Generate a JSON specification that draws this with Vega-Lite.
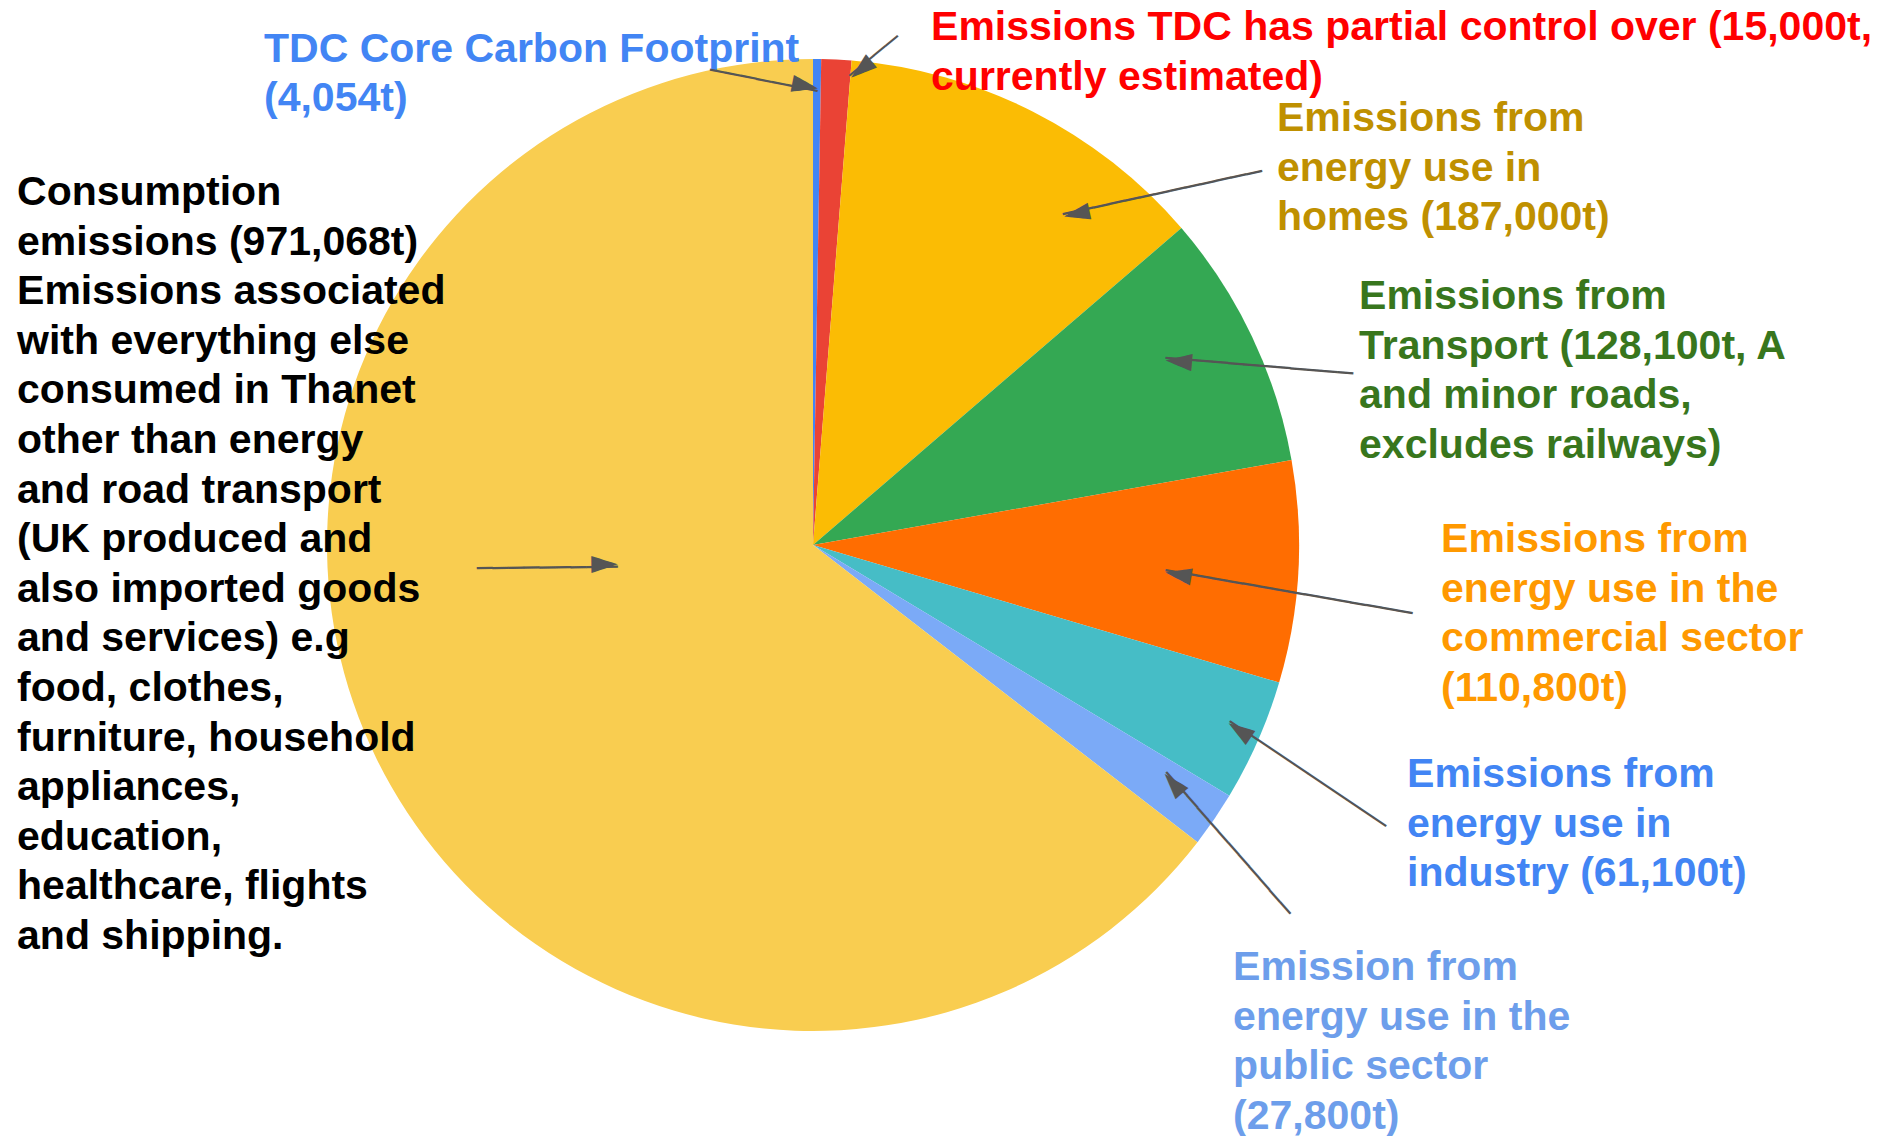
{
  "$schema": "https://vega.github.io/schema/vega-lite/v6.json",
  "width": 972,
  "height": 972,
  "autosize": {"type": "none"},
  "padding": {"left": 327, "top": 59, "right": 602, "bottom": 105},
  "background": "white",
  "config": {"view": {"stroke": null}},
  "data": {
    "values": [
      {"key": "TDC Core Carbon Footprint", "value": 4054, "order": 1, "label": "TDC Core Carbon Footprint|(4,054t)"},
      {"key": "Partial control", "value": 15000, "order": 2, "label": "Emissions TDC has partial control over (15,000t,|currently estimated)"},
      {"key": "Homes", "value": 187000, "order": 3, "label": "Emissions from|energy use in|homes (187,000t)"},
      {"key": "Transport", "value": 128100, "order": 4, "label": "Emissions from|Transport (128,100t, A|and minor roads,|excludes railways)"},
      {"key": "Commercial", "value": 110800, "order": 5, "label": "Emissions from|energy use in the|commercial sector|(110,800t)"},
      {"key": "Industry", "value": 61100, "order": 6, "label": "Emissions from|energy use in|industry (61,100t)"},
      {"key": "Public sector", "value": 27800, "order": 7, "label": "Emission from|energy use in the|public sector|(27,800t)"},
      {"key": "Consumption", "value": 971068, "order": 8, "label": "Consumption|emissions (971,068t)|Emissions associated|with everything else|consumed in Thanet|other than energy|and road transport|(UK produced and|also imported goods|and services) e.g|food, clothes,|furniture, household|appliances,|education,|healthcare, flights|and shipping."}
    ]
  },
  "encoding": {
    "theta": {"field": "value", "type": "quantitative", "stack": true},
    "order": {"field": "order", "type": "quantitative"}
  },
  "layer": [
    {
      "mark": {"type": "arc", "stroke": null},
      "encoding": {
        "color": {
          "field": "key", "type": "nominal", "legend": null,
          "scale": {
            "domain": ["TDC Core Carbon Footprint", "Partial control", "Homes", "Transport", "Commercial", "Industry", "Public sector", "Consumption"],
            "range": ["#4285F4", "#EA4335", "#FBBC04", "#34A853", "#FF6D01", "#46BDC6", "#7BAAF7", "#F9CD50"]
          }
        }
      }
    },
    {
      "mark": {"type": "text", "radius": 486, "dx": -553.1, "dy": 2.7, "align": "left", "baseline": "alphabetic", "font": "Liberation Sans", "fontWeight": "bold", "fontSize": 41, "lineHeight": 49.6, "lineBreak": "|", "fill": "#4285F4"},
      "encoding": {"text": {"condition": {"test": "datum.key === 'TDC Core Carbon Footprint'", "field": "label"}, "value": ""}}
    },
    {
      "mark": {"type": "text", "radius": 486, "dx": 94.6, "dy": -19.6, "align": "left", "baseline": "alphabetic", "font": "Liberation Sans", "fontWeight": "bold", "fontSize": 41, "lineHeight": 49.6, "lineBreak": "|", "fill": "#FF0000"},
      "encoding": {"text": {"condition": {"test": "datum.key === 'Partial control'", "field": "label"}, "value": ""}}
    },
    {
      "mark": {"type": "text", "radius": 486, "dx": 243.9, "dy": 19.3, "align": "left", "baseline": "alphabetic", "font": "Liberation Sans", "fontWeight": "bold", "fontSize": 41, "lineHeight": 49.6, "lineBreak": "|", "fill": "#BF9000"},
      "encoding": {"text": {"condition": {"test": "datum.key === 'Homes'", "field": "label"}, "value": ""}}
    },
    {
      "mark": {"type": "text", "radius": 486, "dx": 107.0, "dy": -27.6, "align": "left", "baseline": "alphabetic", "font": "Liberation Sans", "fontWeight": "bold", "fontSize": 41, "lineHeight": 49.6, "lineBreak": "|", "fill": "#38761D"},
      "encoding": {"text": {"condition": {"test": "datum.key === 'Transport'", "field": "label"}, "value": ""}}
    },
    {
      "mark": {"type": "text", "radius": 486, "dx": 142.8, "dy": -20.0, "align": "left", "baseline": "alphabetic", "font": "Liberation Sans", "fontWeight": "bold", "fontSize": 41, "lineHeight": 49.6, "lineBreak": "|", "fill": "#FF9900"},
      "encoding": {"text": {"condition": {"test": "datum.key === 'Commercial'", "field": "label"}, "value": ""}}
    },
    {
      "mark": {"type": "text", "radius": 486, "dx": 149.2, "dy": 46.3, "align": "left", "baseline": "alphabetic", "font": "Liberation Sans", "fontWeight": "bold", "fontSize": 41, "lineHeight": 49.6, "lineBreak": "|", "fill": "#4285F4"},
      "encoding": {"text": {"condition": {"test": "datum.key === 'Industry'", "field": "label"}, "value": ""}}
    },
    {
      "mark": {"type": "text", "radius": 486, "dx": 19.0, "dy": 160.5, "align": "left", "baseline": "alphabetic", "font": "Liberation Sans", "fontWeight": "bold", "fontSize": 41, "lineHeight": 49.6, "lineBreak": "|", "fill": "#6D9EEB"},
      "encoding": {"text": {"condition": {"test": "datum.key === 'Public sector'", "field": "label"}, "value": ""}}
    },
    {
      "mark": {"type": "text", "radius": 486, "dx": -359.7, "dy": -554.1, "align": "left", "baseline": "alphabetic", "font": "Liberation Sans", "fontWeight": "bold", "fontSize": 41, "lineHeight": 49.6, "lineBreak": "|", "fill": "#000000"},
      "encoding": {"text": {"condition": {"test": "datum.key === 'Consumption'", "field": "label"}, "value": ""}}
    },
    {
      "mark": {"type": "text", "radius": 454.9, "thetaOffset": 0.00209, "angle": 191.24, "align": "left", "baseline": "middle", "font": "DejaVu Sans Mono", "fontSize": 26, "fill": "#555555"},
      "encoding": {"text": {"condition": {"test": "datum.key === 'TDC Core Carbon Footprint'", "value": "───────"}, "value": ""}}
    },
    {
      "mark": {"type": "text", "radius": 454.9, "thetaOffset": 0.00209, "angle": 191.24, "align": "left", "baseline": "middle", "font": "DejaVu Sans Mono", "fontSize": 44, "fill": "#555555"},
      "encoding": {"text": {"condition": {"test": "datum.key === 'TDC Core Carbon Footprint'", "value": "◄"}, "value": ""}}
    },
    {
      "mark": {"type": "text", "radius": 470, "thetaOffset": 0.0303, "angle": 320.5, "align": "left", "baseline": "middle", "font": "DejaVu Sans Mono", "fontSize": 26, "fill": "#555555"},
      "encoding": {"text": {"condition": {"test": "datum.key === 'Partial control'", "value": "────"}, "value": ""}}
    },
    {
      "mark": {"type": "text", "radius": 470, "thetaOffset": 0.0303, "angle": 320.5, "align": "left", "baseline": "middle", "font": "DejaVu Sans Mono", "fontSize": 44, "fill": "#555555"},
      "encoding": {"text": {"condition": {"test": "datum.key === 'Partial control'", "value": "◄"}, "value": ""}}
    },
    {
      "mark": {"type": "text", "radius": 414.1, "thetaOffset": 0.1786, "angle": 347.76, "align": "left", "baseline": "middle", "font": "DejaVu Sans Mono", "fontSize": 26, "fill": "#555555"},
      "encoding": {"text": {"condition": {"test": "datum.key === 'Homes'", "value": "─────────────"}, "value": ""}}
    },
    {
      "mark": {"type": "text", "radius": 414.1, "thetaOffset": 0.1786, "angle": 347.76, "align": "left", "baseline": "middle", "font": "DejaVu Sans Mono", "fontSize": 44, "fill": "#555555"},
      "encoding": {"text": {"condition": {"test": "datum.key === 'Homes'", "value": "◄"}, "value": ""}}
    },
    {
      "mark": {"type": "text", "radius": 398.9, "thetaOffset": -0.0428, "angle": 4.79, "align": "left", "baseline": "middle", "font": "DejaVu Sans Mono", "fontSize": 26, "fill": "#555555"},
      "encoding": {"text": {"condition": {"test": "datum.key === 'Transport'", "value": "────────────"}, "value": ""}}
    },
    {
      "mark": {"type": "text", "radius": 398.9, "thetaOffset": -0.0428, "angle": 4.79, "align": "left", "baseline": "middle", "font": "DejaVu Sans Mono", "fontSize": 44, "fill": "#555555"},
      "encoding": {"text": {"condition": {"test": "datum.key === 'Transport'", "value": "◄"}, "value": ""}}
    },
    {
      "mark": {"type": "text", "radius": 353.4, "thetaOffset": 0.018, "angle": 9.89, "align": "left", "baseline": "middle", "font": "DejaVu Sans Mono", "fontSize": 26, "fill": "#555555"},
      "encoding": {"text": {"condition": {"test": "datum.key === 'Commercial'", "value": "────────────────"}, "value": ""}}
    },
    {
      "mark": {"type": "text", "radius": 353.4, "thetaOffset": 0.018, "angle": 9.89, "align": "left", "baseline": "middle", "font": "DejaVu Sans Mono", "fontSize": 44, "fill": "#555555"},
      "encoding": {"text": {"condition": {"test": "datum.key === 'Commercial'", "value": "◄"}, "value": ""}}
    },
    {
      "mark": {"type": "text", "radius": 452.6, "thetaOffset": -0.0127, "angle": 33.94, "align": "left", "baseline": "middle", "font": "DejaVu Sans Mono", "fontSize": 26, "fill": "#555555"},
      "encoding": {"text": {"condition": {"test": "datum.key === 'Industry'", "value": "────────────"}, "value": ""}}
    },
    {
      "mark": {"type": "text", "radius": 452.6, "thetaOffset": -0.0127, "angle": 33.94, "align": "left", "baseline": "middle", "font": "DejaVu Sans Mono", "fontSize": 44, "fill": "#555555"},
      "encoding": {"text": {"condition": {"test": "datum.key === 'Industry'", "value": "◄"}, "value": ""}}
    },
    {
      "mark": {"type": "text", "radius": 420, "thetaOffset": -0.0269, "angle": 48.86, "align": "left", "baseline": "middle", "font": "DejaVu Sans Mono", "fontSize": 26, "fill": "#555555"},
      "encoding": {"text": {"condition": {"test": "datum.key === 'Public sector'", "value": "────────────"}, "value": ""}}
    },
    {
      "mark": {"type": "text", "radius": 420, "thetaOffset": -0.0269, "angle": 48.86, "align": "left", "baseline": "middle", "font": "DejaVu Sans Mono", "fontSize": 44, "fill": "#555555"},
      "encoding": {"text": {"condition": {"test": "datum.key === 'Public sector'", "value": "◄"}, "value": ""}}
    },
    {
      "mark": {"type": "text", "radius": 196.4, "thetaOffset": 0.3502, "angle": 179.41, "align": "left", "baseline": "middle", "font": "DejaVu Sans Mono", "fontSize": 26, "fill": "#555555"},
      "encoding": {"text": {"condition": {"test": "datum.key === 'Consumption'", "value": "─────────"}, "value": ""}}
    },
    {
      "mark": {"type": "text", "radius": 196.4, "thetaOffset": 0.3502, "angle": 179.41, "align": "left", "baseline": "middle", "font": "DejaVu Sans Mono", "fontSize": 44, "fill": "#555555"},
      "encoding": {"text": {"condition": {"test": "datum.key === 'Consumption'", "value": "◄"}, "value": ""}}
    }
  ]
}
